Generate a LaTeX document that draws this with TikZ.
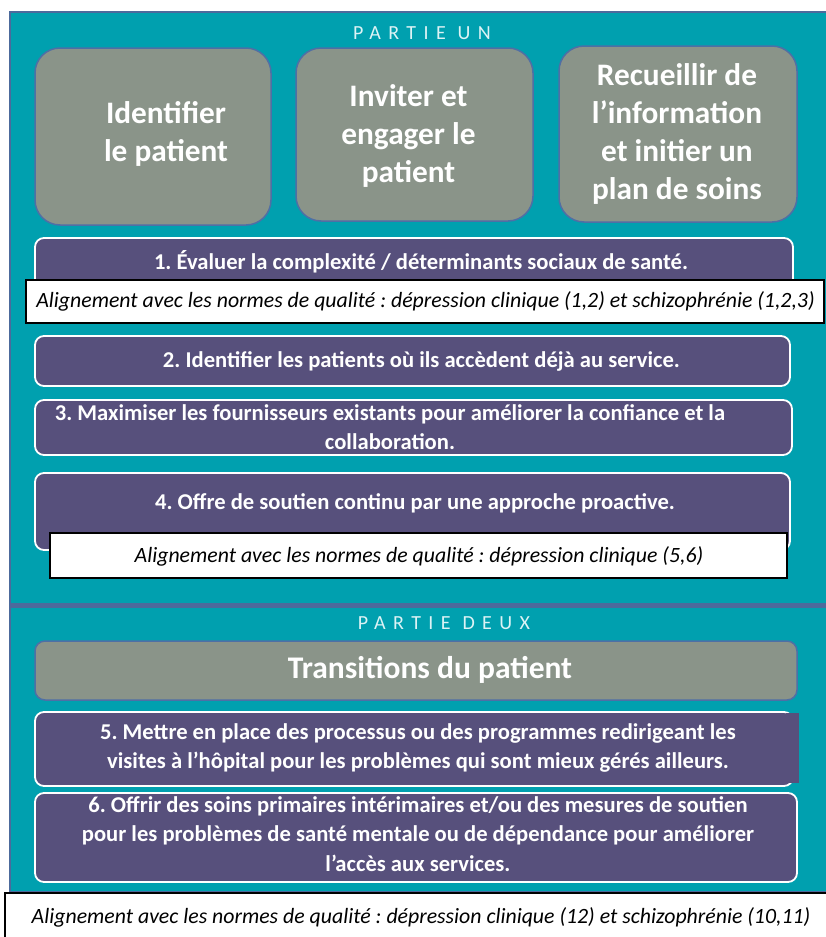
\documentclass[tikz,border=0pt]{standalone}
\usepackage{fontspec}
\setmainfont{Carlito}
\newfontfamily\spacedfont[LetterSpace=37]{Carlito}
\frenchspacing
\definecolor{tealbg}{HTML}{00A0AF}
\definecolor{panelborder}{HTML}{4C6A9C}
\definecolor{boxgray}{HTML}{8A9489}
\definecolor{boxblue}{HTML}{4F6FA5}
\definecolor{purp}{HTML}{57507C}
\definecolor{titletxt}{HTML}{DDF3F5}
\tikzset{
  panel/.style={fill=tealbg, draw=panelborder, line width=1.5pt},
  graybox/.style={rectangle, rounded corners=25pt, fill=boxgray, draw=boxblue, line width=1.5pt, inner sep=0pt},
  graytext/.style={text=white, align=center, inner sep=0pt, font=\bfseries\fontsize{31.3}{38}\selectfont},
  purpbox/.style={rectangle, rounded corners=9pt, fill=purp, draw=white, line width=1.8pt, inner sep=0pt},
  purptext/.style={text=white, align=center, inner sep=0pt, font=\bfseries\fontsize{22.6}{29.5}\selectfont},
  notebox/.style={rectangle, fill=white, draw=black, line width=1.3pt, inner sep=0pt},
  notetext/.style={inner sep=0pt, font=\itshape\fontsize{21.8}{24}\selectfont},
  parttitle/.style={text=titletxt, inner sep=0pt, font=\spacedfont\fontsize{20}{24}\selectfont}
}
\begin{document}
\begin{tikzpicture}[x=1pt,y=-1pt]
\useasboundingbox (0,0) rectangle (826,937);
\fill[white] (0,0) rectangle (826,937);
% panels
\draw[panel] (10,12) rectangle (832,606);
\fill[panelborder] (10,602.5) rectangle (826,607.5);
\draw[panel] (10,607.5) rectangle (832,892);
% Part one
\node[parttitle] (t1) at (422,33) {PARTIE UN};
\node[graybox, minimum width=236pt, minimum height=177pt] (g1) at (153,136.5) {};
\node[graytext] (g1t) at (166,134) {Identifier\\le patient};
\node[graybox, minimum width=237pt, minimum height=173pt] (g2) at (414.5,134.5) {};
\node[graytext] (g2t) at (408.5,136) {Inviter et\\engager le\\patient};
\node[graybox, minimum width=238pt, minimum height=176pt] (g3) at (678,134) {};
\node[graytext] (g3t) at (677,134) {Recueillir de\\l’information\\et initier un\\plan de soins};

\node[purpbox, minimum width=758pt, minimum height=52pt] (p1) at (414,264) {};
\node[purptext] (p1t) at (421,262) {1. Évaluer la complexité / déterminants sociaux de santé.};
\node[notebox, minimum width=798pt, minimum height=43pt] (n1) at (425,301.5) {};
\node[notetext] (n1t) at (425.5,301.5)
  {Alignement avec les normes de qualité : dépression clinique (1,2) et schizophrénie (1,2,3)};

\node[purpbox, minimum width=755pt, minimum height=50pt] (p2) at (412.5,361) {};
\node[purptext] (p2t) at (421.5,361) {2. Identifier les patients où ils accèdent déjà au service.};

\node[purpbox, minimum width=757pt, minimum height=55pt] (p3) at (413.5,427.5) {};
\node[purptext] (p3t) at (390,427) {3. Maximiser les fournisseurs existants pour améliorer la confiance et la\\collaboration.};

\node[purpbox, minimum width=755pt, minimum height=77pt] (p4) at (412.5,511.5) {};
\node[purptext] (p4t) at (415,503) {4. Offre de soutien continu par une approche proactive.};
\node[notebox, minimum width=737pt, minimum height=45pt] (n2) at (418.5,555.5) {};
\node[notetext] (n2t) at (419,556) {Alignement avec les normes de qualité : dépression clinique (5,6)};

% Part two
\node[parttitle] (t2) at (444,623) {PARTIE DEUX};
\node[graybox, rounded corners=10pt, minimum width=762pt, minimum height=59pt] (g4) at (416,670.5) {};
\node[graytext, font=\bfseries\fontsize{31.5}{36}\selectfont] (g4t) at (430,670) {Transitions du patient};

\node[purpbox, minimum width=758pt, minimum height=74pt] (p5) at (414,749) {};
\fill[purp] (786,713) rectangle (799,783);
\node[purptext] (p5t) at (418,748) {5. Mettre en place des processus ou des programmes redirigeant les\\visites à l’hôpital pour les problèmes qui sont mieux gérés ailleurs.};

\node[purpbox, minimum width=762pt, minimum height=89pt] (p6) at (416,837.5) {};
\node[purptext] (p6t) at (418,834) {6. Offrir des soins primaires intérimaires et/ou des mesures de soutien\\pour les problèmes de santé mentale ou de dépendance pour améliorer\\l’accès aux services.};

\node[notebox, minimum width=822pt, minimum height=50pt] (n3) at (416,918) {};
\node[notetext] (n3t) at (421,917)
  {Alignement avec les normes de qualité : dépression clinique (12) et schizophrénie (10,11)};
\end{tikzpicture}
\end{document}
